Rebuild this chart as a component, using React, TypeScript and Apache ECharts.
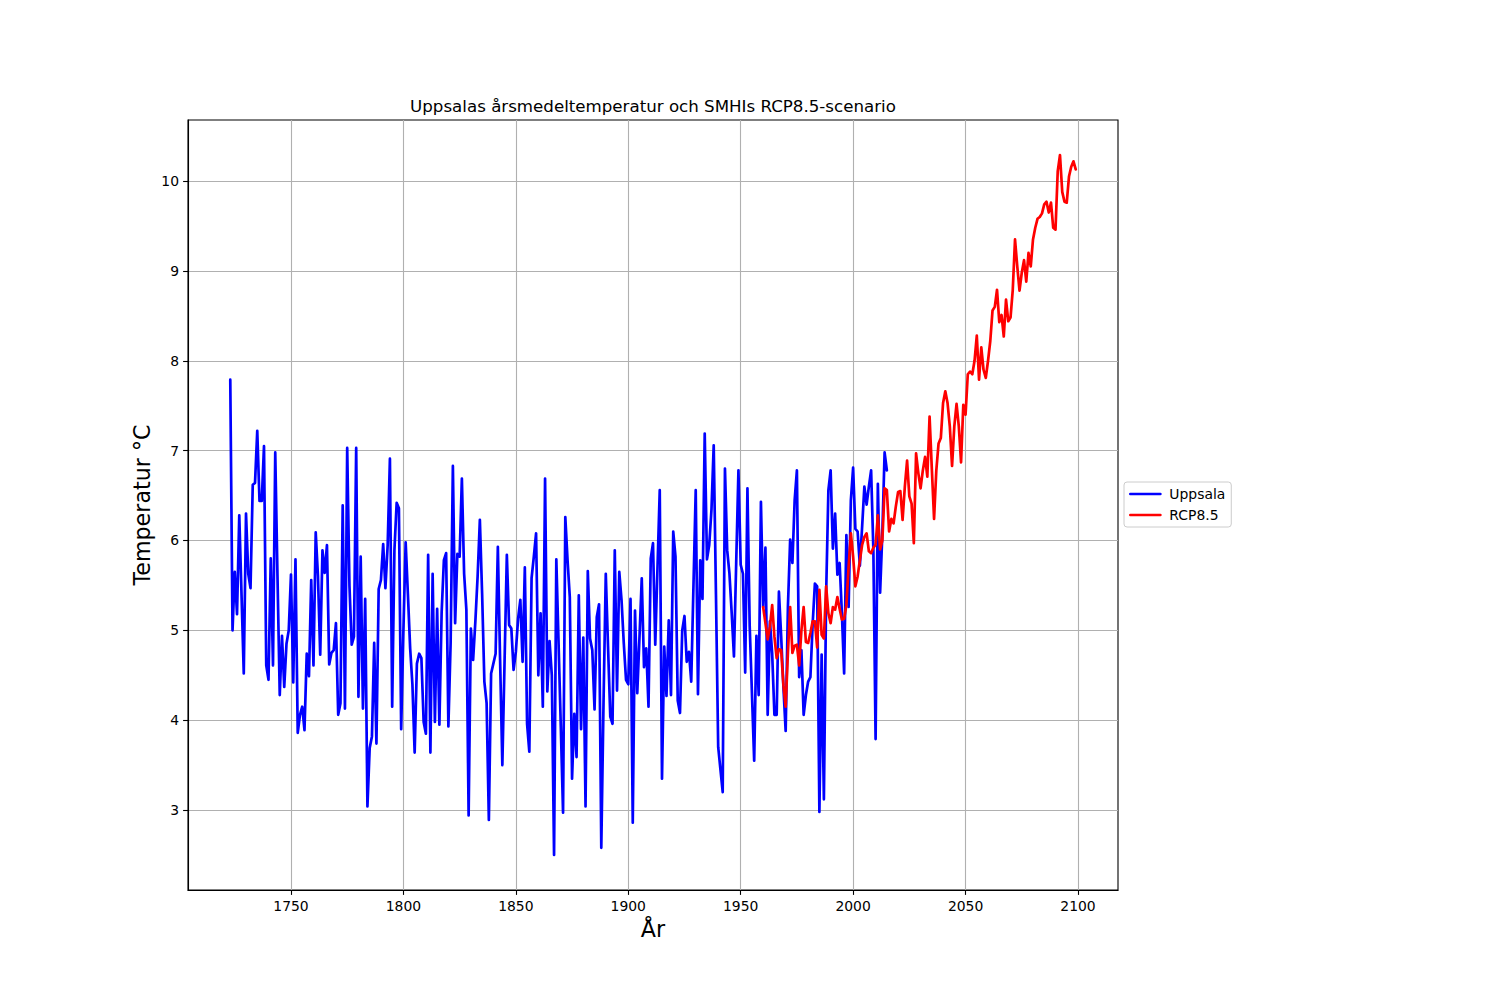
import { useEffect, useRef } from 'react';
import * as echarts from 'echarts';

// Uppsala annual mean temperature, one value per year starting 1723
const uppsalaStartYear = 1723;
const uppsalaTemps = [
  7.79, 5.00, 5.65, 5.18, 6.28, 5.40, 4.52,
  6.30, 5.63, 5.47, 6.62, 6.64, 7.22, 6.44, 6.44, 7.05, 4.61,
  4.45, 5.80, 4.61, 6.98, 5.60, 4.28, 4.94, 4.37, 4.85, 5.00,
  5.62, 4.42, 5.79, 3.86, 4.06, 4.15, 3.89, 4.74, 4.49, 5.56,
  4.61, 6.09, 5.60, 4.73, 5.89, 5.64, 5.95, 4.62, 4.75, 4.78,
  5.08, 4.06, 4.19, 6.39, 4.13, 7.03, 5.50, 4.84, 4.93, 7.03,
  4.26, 5.82, 4.13, 5.35, 3.04, 3.69, 3.82, 4.86, 3.74, 5.46,
  5.56, 5.96, 5.47, 5.95, 6.91, 4.15, 5.89, 6.42, 6.36, 3.90,
  5.00, 5.98, 5.40, 4.80, 4.40, 3.64, 4.63, 4.74, 4.69, 3.98,
  3.85, 5.84, 3.64, 5.63, 3.98, 5.24, 3.95, 5.20, 5.78, 5.86,
  3.93, 4.86, 6.83, 5.08, 5.85, 5.82, 6.69, 5.63, 5.23, 2.94,
  5.02, 4.67, 5.10, 5.60, 6.23, 5.41, 4.43, 4.19, 2.89, 4.52,
  4.63, 4.74, 5.93, 4.67, 3.50, 4.67, 5.84, 5.06, 5.02, 4.56,
  4.76, 5.13, 5.34, 4.65, 5.70, 3.96, 3.65, 5.58, 5.82, 6.08,
  4.50, 5.19, 4.15, 6.69, 4.32, 4.88, 4.50, 2.50, 5.79, 4.86,
  3.93, 2.97, 6.26, 5.78, 5.37, 3.35, 4.07, 3.59, 5.39, 3.90,
  4.92, 3.04, 5.66, 4.91, 4.78, 4.12, 5.15, 5.29, 2.58, 4.20,
  5.63, 4.82, 4.04, 3.96, 5.89, 4.33, 5.65, 5.34, 4.86, 4.45,
  4.40, 5.35, 2.86, 5.22, 4.30, 4.93, 5.58, 4.59, 4.80, 4.15,
  5.80, 5.97, 4.84, 5.70, 6.56, 3.35, 4.82, 4.27, 5.11, 4.28,
  6.10, 5.82, 4.22, 4.08, 5.00, 5.16, 4.65, 4.76, 4.43, 5.50,
  6.56, 4.29, 5.78, 5.35, 7.19, 5.79, 5.95, 6.34, 7.06, 5.40,
  3.70, 3.45, 3.20, 6.80, 5.89, 5.63, 5.19, 4.71, 5.75, 6.78,
  5.73, 5.63, 4.53, 6.58, 5.05, 4.30, 3.55, 4.94, 4.28, 6.43,
  5.26, 5.92, 4.06, 5.10, 4.74, 4.06, 4.06, 5.43, 4.93, 4.37,
  3.88, 5.26, 6.01, 5.75, 6.45, 6.78, 4.48, 4.78, 4.06, 4.28,
  4.43, 4.48, 5.07, 5.52, 5.49, 2.98, 4.73, 3.12, 5.40, 6.56,
  6.78, 5.91, 6.30, 5.62, 5.75, 5.19, 4.52, 6.06, 5.26, 6.45,
  6.81, 6.13, 6.10, 5.72, 6.15, 6.60, 6.40, 6.60, 6.78, 5.90,
  3.79, 6.63, 5.42, 6.08, 6.98, 6.78,
];

// SMHI RCP8.5 scenario, one value per year starting 1960
const rcpStartYear = 1960;
const rcpTemps = [
  5.26, 5.08, 4.90, 5.04, 5.28, 4.93, 4.69, 4.79, 4.78, 4.39,
  4.15, 4.75, 5.26, 4.75, 4.83, 4.84, 4.61, 5.00, 5.26, 4.87,
  4.86, 4.97, 5.10, 5.10, 4.81, 5.45, 4.95, 4.91, 5.49, 5.19,
  5.08, 5.26, 5.23, 5.37, 5.24, 5.12, 5.13, 5.28, 5.71, 6.08,
  5.82, 5.49, 5.60, 5.78, 5.95, 6.04, 6.08, 5.88, 5.86, 5.92,
  5.95, 6.28, 5.90, 6.00, 6.58, 6.56, 6.10, 6.24, 6.19, 6.38,
  6.54, 6.55, 6.23, 6.60, 6.89, 6.49, 6.41, 5.97, 6.97, 6.75,
  6.58, 6.78, 6.93, 6.71, 7.38, 6.80, 6.24, 6.78, 7.08, 7.14,
  7.53, 7.66, 7.53, 7.27, 6.83, 7.27, 7.52, 7.27, 6.87, 7.51,
  7.40, 7.85, 7.88, 7.85, 8.00, 8.28, 7.79, 8.15, 7.90, 7.81,
  8.00, 8.22, 8.56, 8.60, 8.79, 8.43, 8.51, 8.27, 8.68, 8.44,
  8.48, 8.79, 9.35, 9.05, 8.78, 8.98, 9.12, 8.88, 9.20, 9.05,
  9.35, 9.48, 9.58, 9.60, 9.64, 9.74, 9.77, 9.65, 9.76, 9.48,
  9.46, 10.11, 10.29, 9.88, 9.77, 9.76, 10.05, 10.16, 10.22, 10.13,
];

const xTicks = [1750, 1800, 1850, 1900, 1950, 2000, 2050, 2100];
const yTicks = [3, 4, 5, 6, 7, 8, 9, 10];

const titleText = 'Uppsalas årsmedeltemperatur och SMHIs RCP8.5-scenario';
const xName = 'År';
const yName = 'Temperatur °C';
const seriesNames = ['Uppsala', 'RCP8.5'];

const FONT = 'DejaVu Sans';

export default function App() {
  const ref = useRef<HTMLDivElement>(null);

  useEffect(() => {
    if (!ref.current) return;
    const chart = echarts.init(ref.current, null, { renderer: 'svg' });

    const uppData = uppsalaTemps.map((v, i) => [uppsalaStartYear + i, v]);
    const rcpData = rcpTemps.map((v, i) => [rcpStartYear + i, v]);

    // matplotlib-like 5% margins
    const xs = [...uppData, ...rcpData].map((d) => d[0]);
    const ys = [...uppsalaTemps, ...rcpTemps];
    const xMin = Math.min(...xs), xMax = Math.max(...xs);
    const yMin = Math.min(...ys), yMax = Math.max(...ys);
    const xPad = (xMax - xMin) * 0.05;
    const yPad = (yMax - yMin) * 0.05;

    const gridLeft = 188, gridTop = 120, gridW = 930, gridH = 770;

    const option: any = {
      animation: false,
      backgroundColor: '#ffffff',
      textStyle: { fontFamily: FONT },
      grid: {
        left: gridLeft,
        top: gridTop,
        width: gridW,
        height: gridH,
        show: true,
        borderColor: '#000000',
        borderWidth: 1.1,
        backgroundColor: 'transparent',
      },
      legend: {
        orient: 'vertical',
        left: 1124,
        top: 482,
        data: seriesNames,
        itemWidth: 30,
        itemHeight: 14,
        itemGap: 7,
        padding: [5, 6, 5, 5],
        borderColor: '#cccccc',
        borderWidth: 1,
        borderRadius: 3,
        backgroundColor: '#ffffff',
        itemStyle: { opacity: 0 },
        lineStyle: { width: 2.7 },
        textStyle: { fontFamily: FONT, fontSize: 13.9, color: '#000000', padding: [0, 0, 0, 4] },
        selectedMode: false,
      },
      xAxis: {
        type: 'value',
        min: xMin - xPad,
        max: xMax + xPad,
        axisLine: { show: true, onZero: false, lineStyle: { color: '#000000', width: 1.1 } },
        axisTick: {
          show: true,
          customValues: xTicks,
          length: 4.9,
          lineStyle: { color: '#000000', width: 1.1 },
        },
        axisLabel: {
          customValues: xTicks,
          color: '#000000',
          fontSize: 13.9,
          fontFamily: FONT,
          margin: 9,
          formatter: (v: number) => String(v),
        },
        splitLine: { show: true, lineStyle: { color: '#b0b0b0', width: 1.1 } },
      },
      yAxis: {
        type: 'value',
        min: yMin - yPad,
        max: yMax + yPad,
        axisLine: { show: true, onZero: false, lineStyle: { color: '#000000', width: 1.1 } },
        axisTick: {
          show: true,
          customValues: yTicks,
          length: 4.9,
          lineStyle: { color: '#000000', width: 1.1 },
        },
        axisLabel: {
          customValues: yTicks,
          color: '#000000',
          fontSize: 13.9,
          fontFamily: FONT,
          margin: 9,
          formatter: (v: number) => String(v),
        },
        splitLine: { show: true, lineStyle: { color: '#b0b0b0', width: 1.1 } },
      },
      series: [
        {
          name: seriesNames[0],
          type: 'line',
          data: uppData,
          symbol: 'none',
          lineStyle: { color: '#0000ff', width: 2.7, join: 'round', cap: 'round' },
          itemStyle: { color: '#0000ff' },
          z: 2,
        },
        {
          name: seriesNames[1],
          type: 'line',
          data: rcpData,
          symbol: 'none',
          lineStyle: { color: '#ff0000', width: 2.7, join: 'round', cap: 'round' },
          itemStyle: { color: '#ff0000' },
          z: 3,
        },
      ],
      graphic: [
        {
          type: 'text',
          x: gridLeft + gridW / 2,
          y: 106,
          style: {
            text: titleText,
            fontSize: 16.67,
            fontFamily: FONT,
            fill: '#000000',
            textAlign: 'center',
            textVerticalAlign: 'middle',
          },
        },
        {
          type: 'text',
          x: gridLeft + gridW / 2,
          y: 929,
          style: {
            text: xName,
            fontSize: 22.2,
            fontFamily: FONT,
            fill: '#000000',
            textAlign: 'center',
            textVerticalAlign: 'middle',
          },
        },
        {
          type: 'text',
          x: 141.5,
          y: gridTop + gridH / 2,
          rotation: Math.PI / 2,
          style: {
            text: yName,
            fontSize: 22.2,
            fontFamily: FONT,
            fill: '#000000',
            textAlign: 'center',
            textVerticalAlign: 'middle',
          },
        },
      ],
    };

    chart.setOption(option);
    return () => chart.dispose();
  }, []);

  return (
    <div
      ref={ref}
      style={{ position: 'absolute', left: 0, top: 0, width: 1500, height: 1000, background: '#ffffff' }}
    />
  );
}
